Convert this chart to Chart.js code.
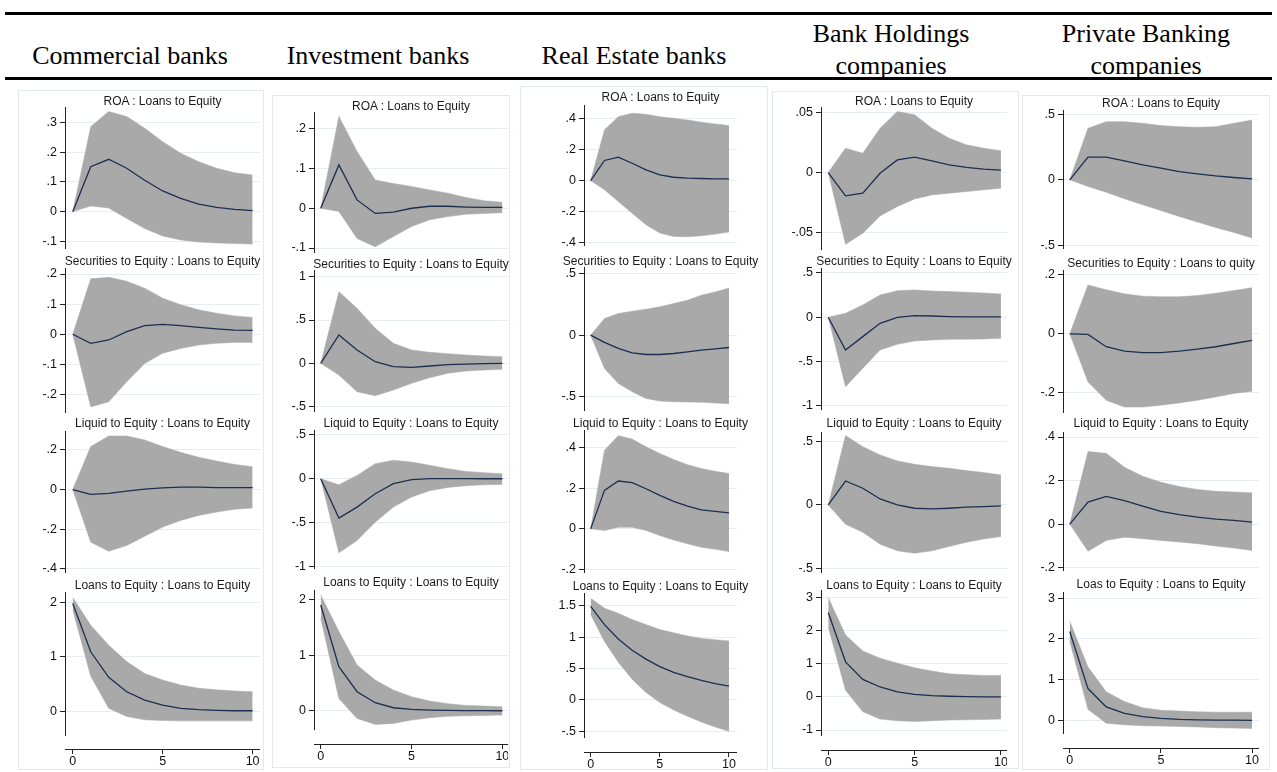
<!DOCTYPE html>
<html>
<head>
<meta charset="utf-8">
<title>Impulse responses to Loans to Equity by bank type</title>
<script src="https://cdn.jsdelivr.net/npm/chart.js@4.4.1/dist/chart.umd.min.js"></script>
<style>
  html, body { margin: 0; padding: 0; background: #fff; }
  #page { position: relative; width: 1277px; height: 772px; overflow: hidden; background: #fff; }
  .rule { position: absolute; left: 5px; width: 1267px; height: 3px; background: #000; }
  .head { position: absolute; font-family: 'Liberation Serif', 'Times New Roman', serif; font-size: 26px;
          color: #000; text-align: center; line-height: 32px; white-space: nowrap; transform: translate(-50%, -50%); }
  .frame { position: absolute; border: 1px solid #e3e8ec; box-sizing: border-box; background: #fff; }
  .ptitle { position: absolute; font-family: 'Liberation Sans', Arial, sans-serif; font-size: 12px; color: #1a1a1a;
            white-space: nowrap; line-height: 14px; transform: translate(-50%, -50%); }
  canvas { position: absolute; }
</style>
</head>
<body>
<div id="page"></div>
<script>
// ---------- data ----------
const steps = [0, 1, 2, 3, 4, 5, 6, 7, 8, 9, 10];
const xTickLabels = ['0', '5', '10'];
const groupNames = ['Commercial banks', 'Investment banks', 'Real Estate banks', 'Bank Holdings\ncompanies', 'Private Banking\ncompanies'];

// Commercial banks
const cbTitles = ['ROA : Loans to Equity', 'Securities to Equity : Loans to Equity', 'Liquid to Equity : Loans to Equity', 'Loans to Equity : Loans to Equity'];
const cbRoaTicks = ['-.1', '0', '.1', '.2', '.3'];
const cbSecTicks = ['-.2', '-.1', '0', '.1', '.2'];
const cbLiqTicks = ['-.4', '-.2', '0', '.2'];
const cbLoanTicks = ['0', '1', '2'];
const cbRoaIrf = [0, 0.151, 0.176, 0.146, 0.106, 0.070, 0.045, 0.026, 0.015, 0.008, 0.004];
const cbRoaLo  = [0, 0.020, 0.013, -0.022, -0.056, -0.081, -0.094, -0.101, -0.104, -0.106, -0.108];
const cbRoaHi  = [0, 0.285, 0.336, 0.319, 0.280, 0.235, 0.196, 0.168, 0.146, 0.131, 0.123];
const cbSecIrf = [0, -0.030, -0.019, 0.009, 0.029, 0.033, 0.029, 0.023, 0.018, 0.014, 0.013];
const cbSecLo  = [0, -0.241, -0.224, -0.158, -0.097, -0.063, -0.047, -0.036, -0.030, -0.027, -0.027];
const cbSecHi  = [0, 0.184, 0.189, 0.176, 0.153, 0.120, 0.098, 0.081, 0.070, 0.061, 0.056];
const cbLiqIrf = [0, -0.024, -0.019, -0.008, 0.002, 0.008, 0.012, 0.012, 0.010, 0.010, 0.010];
const cbLiqLo  = [0, -0.266, -0.312, -0.283, -0.236, -0.190, -0.156, -0.131, -0.114, -0.100, -0.093];
const cbLiqHi  = [0, 0.217, 0.271, 0.271, 0.251, 0.217, 0.188, 0.163, 0.144, 0.127, 0.115];
const cbLoanIrf = [1.98, 1.09, 0.62, 0.356, 0.20, 0.11, 0.05, 0.025, 0.012, 0.006, 0.006];
const cbLoanLo  = [1.86, 0.64, 0.05, -0.10, -0.16, -0.175, -0.18, -0.18, -0.18, -0.18, -0.18];
const cbLoanHi  = [2.09, 1.58, 1.21, 0.91, 0.69, 0.57, 0.48, 0.42, 0.39, 0.37, 0.356];

// Investment banks
const ibTitles = ['ROA : Loans to Equity', 'Securities to Equity : Loans to Equity', 'Liquid to Equity : Loans to Equity', 'Loans to Equity : Loans to Equity'];
const ibRoaTicks = ['-.1', '0', '.1', '.2'];
const ibSecTicks = ['-.5', '0', '.5', '1'];
const ibLiqTicks = ['-1', '-.5', '0', '.5'];
const ibLoanTicks = ['0', '1', '2'];
const ibRoaIrf = [0, 0.109, 0.021, -0.013, -0.010, 0.000, 0.005, 0.005, 0.003, 0.002, 0.002];
const ibRoaLo  = [0, -0.008, -0.076, -0.097, -0.071, -0.046, -0.029, -0.021, -0.015, -0.013, -0.011];
const ibRoaHi  = [0, 0.231, 0.143, 0.071, 0.062, 0.055, 0.046, 0.038, 0.027, 0.019, 0.015];
const ibSecIrf = [0, 0.327, 0.154, 0.019, -0.038, -0.046, -0.031, -0.015, -0.008, -0.004, 0.000];
const ibSecLo  = [0, -0.135, -0.327, -0.373, -0.308, -0.231, -0.165, -0.115, -0.088, -0.077, -0.069];
const ibSecHi  = [0, 0.827, 0.635, 0.404, 0.231, 0.154, 0.127, 0.112, 0.096, 0.085, 0.077];
const ibLiqIrf = [0, -0.450, -0.324, -0.172, -0.057, -0.011, 0.002, 0.002, 0.001, 0.000, 0.000];
const ibLiqLo  = [0, -0.847, -0.706, -0.496, -0.324, -0.210, -0.137, -0.099, -0.080, -0.069, -0.065];
const ibLiqHi  = [0, -0.069, 0.038, 0.172, 0.210, 0.191, 0.153, 0.115, 0.084, 0.069, 0.057];
const ibLoanIrf = [1.91, 0.795, 0.343, 0.145, 0.054, 0.024, 0.012, 0.006, 0.003, 0.001, 0.000];
const ibLoanLo  = [1.67, 0.22, -0.139, -0.247, -0.229, -0.169, -0.127, -0.102, -0.090, -0.084, -0.078];
const ibLoanHi  = [2.09, 1.43, 0.825, 0.554, 0.373, 0.253, 0.175, 0.127, 0.096, 0.084, 0.072];

// Real Estate banks
const reTitles = ['ROA : Loans to Equity', 'Securities to Equity : Loans to Equity', 'Liquid to Equity : Loans to Equity', 'Loans to Equity : Loans to Equity'];
const reRoaTicks = ['-.4', '-.2', '0', '.2', '.4'];
const reSecTicks = ['-.5', '0', '.5'];
const reLiqTicks = ['-.2', '0', '.2', '.4'];
const reLoanTicks = ['-.5', '0', '.5', '1', '1.5'];
const reRoaIrf = [0, 0.129, 0.150, 0.111, 0.069, 0.036, 0.021, 0.015, 0.013, 0.011, 0.011];
const reRoaLo  = [0, -0.060, -0.135, -0.210, -0.285, -0.338, -0.360, -0.362, -0.356, -0.345, -0.332];
const reRoaHi  = [0, 0.326, 0.411, 0.433, 0.426, 0.411, 0.400, 0.390, 0.375, 0.364, 0.354];
const reSecIrf = [0, -0.059, -0.108, -0.143, -0.157, -0.157, -0.149, -0.135, -0.122, -0.111, -0.100];
const reSecLo  = [0, -0.270, -0.392, -0.459, -0.514, -0.535, -0.541, -0.543, -0.546, -0.551, -0.557];
const reSecHi  = [0, 0.135, 0.176, 0.195, 0.211, 0.230, 0.257, 0.284, 0.324, 0.351, 0.384];
const reLiqIrf = [0, 0.190, 0.236, 0.228, 0.198, 0.165, 0.136, 0.112, 0.094, 0.086, 0.079];
const reLiqLo  = [0, -0.008, 0.008, 0.008, -0.008, -0.033, -0.055, -0.074, -0.091, -0.101, -0.112];
const reLiqHi  = [0, 0.388, 0.460, 0.443, 0.405, 0.372, 0.342, 0.317, 0.298, 0.284, 0.273];
const reLoanIrf = [1.49, 1.20, 0.97, 0.79, 0.65, 0.53, 0.44, 0.37, 0.31, 0.26, 0.22];
const reLoanLo  = [1.36, 0.93, 0.60, 0.33, 0.12, -0.04, -0.16, -0.26, -0.35, -0.43, -0.50];
const reLoanHi  = [1.62, 1.46, 1.38, 1.28, 1.20, 1.12, 1.07, 1.02, 0.98, 0.96, 0.94];

// Bank Holdings companies
const bhTitles = ['ROA : Loans to Equity', 'Securities to Equity : Loans to Equity', 'Liquid to Equity : Loans to Equity', 'Loans to Equity : Loans to Equity'];
const bhRoaTicks = ['-.05', '0', '.05'];
const bhSecTicks = ['-1', '-.5', '0', '.5'];
const bhLiqTicks = ['-.5', '0', '.5'];
const bhLoanTicks = ['-1', '0', '1', '2', '3'];
const bhRoaIrf = [0, -0.0194, -0.0172, -0.0006, 0.0105, 0.0127, 0.0097, 0.0064, 0.0042, 0.0028, 0.0020];
const bhRoaLo  = [0, -0.0596, -0.0504, -0.0360, -0.0283, -0.0219, -0.0186, -0.0172, -0.0158, -0.0144, -0.0130];
const bhRoaHi  = [0, 0.0202, 0.0160, 0.0368, 0.0507, 0.0480, 0.0368, 0.0285, 0.0230, 0.0202, 0.0180];
const bhSecIrf = [0, -0.368, -0.218, -0.068, 0.000, 0.019, 0.015, 0.008, 0.004, 0.004, 0.004];
const bhSecLo  = [0, -0.782, -0.575, -0.368, -0.305, -0.267, -0.256, -0.248, -0.248, -0.244, -0.237];
const bhSecHi  = [0, 0.045, 0.139, 0.252, 0.300, 0.308, 0.297, 0.290, 0.282, 0.274, 0.263];
const bhLiqIrf = [0, 0.188, 0.131, 0.047, 0.000, -0.026, -0.031, -0.026, -0.018, -0.013, -0.008];
const bhLiqLo  = [0, -0.152, -0.215, -0.309, -0.361, -0.379, -0.361, -0.327, -0.293, -0.267, -0.249];
const bhLiqHi  = [0, 0.545, 0.458, 0.393, 0.346, 0.319, 0.301, 0.288, 0.270, 0.254, 0.236];
const bhLoanIrf = [2.55, 1.06, 0.53, 0.30, 0.15, 0.08, 0.04, 0.02, 0.01, 0.00, 0.00];
const bhLoanLo  = [2.11, 0.20, -0.45, -0.67, -0.72, -0.74, -0.72, -0.70, -0.69, -0.68, -0.67];
const bhLoanHi  = [3.00, 1.87, 1.39, 1.17, 1.02, 0.88, 0.78, 0.70, 0.67, 0.65, 0.65];

// Private Banking companies
const pbTitles = ['ROA : Loans to Equity', 'Securities to Equity : Loans to quity', 'Liquid to Equity : Loans to Equity', 'Loas to Equity : Loans to Equity'];
const pbRoaTicks = ['-.5', '0', '.5'];
const pbSecTicks = ['-.2', '0', '.2'];
const pbLiqTicks = ['-.2', '0', '.2', '.4'];
const pbLoanTicks = ['0', '1', '2', '3'];
const pbRoaIrf = [0, 0.173, 0.173, 0.145, 0.114, 0.089, 0.063, 0.046, 0.030, 0.018, 0.008];
const pbRoaLo  = [0, -0.051, -0.094, -0.145, -0.190, -0.234, -0.279, -0.322, -0.363, -0.401, -0.444];
const pbRoaHi  = [0, 0.393, 0.444, 0.444, 0.431, 0.414, 0.406, 0.401, 0.406, 0.431, 0.457];
const pbSecIrf = [0, -0.002, -0.044, -0.059, -0.064, -0.064, -0.059, -0.052, -0.044, -0.033, -0.022];
const pbSecLo  = [0, -0.164, -0.226, -0.249, -0.249, -0.243, -0.235, -0.226, -0.215, -0.203, -0.195];
const pbSecHi  = [0, 0.166, 0.150, 0.136, 0.128, 0.126, 0.126, 0.130, 0.138, 0.147, 0.157];
const pbLiqIrf = [0, 0.101, 0.127, 0.108, 0.082, 0.058, 0.043, 0.032, 0.023, 0.017, 0.009];
const pbLiqLo  = [0, -0.125, -0.075, -0.060, -0.067, -0.075, -0.082, -0.090, -0.101, -0.110, -0.121];
const pbLiqHi  = [0, 0.333, 0.325, 0.261, 0.220, 0.192, 0.173, 0.159, 0.151, 0.147, 0.144];
const pbLoanIrf = [2.18, 0.78, 0.33, 0.17, 0.09, 0.05, 0.025, 0.012, 0.008, 0.004, 0.002];
const pbLoanLo  = [1.94, 0.27, -0.07, -0.11, -0.13, -0.14, -0.15, -0.16, -0.18, -0.19, -0.20];
const pbLoanHi  = [2.43, 1.31, 0.70, 0.46, 0.31, 0.25, 0.23, 0.21, 0.20, 0.20, 0.20];

// ---------- layout (pixels) ----------
const headerCenters = [130, 378, 634, 891, 1146];
const frames = [[18, 90, 264, 770], [272, 95, 510, 768], [520, 86, 768, 770], [772, 91, 1019, 769], [1022, 95, 1270, 770]];
// per column: y-axis x position, right edge of plot, x range, bottom axis position
const colGeo = [
  { axisX: 65,   right: 260,  xMin: -0.43, xMax: 10.41, xAxisY: 749 },
  { axisX: 314,  right: 508,  xMin: -0.37, xMax: 10.31, xAxisY: 744 },
  { axisX: 584,  right: 737,  xMin: -0.48, xMax: 10.58, xAxisY: 752 },
  { axisX: 821,  right: 1007, xMin: -0.42, xMax: 10.35, xAxisY: 750 },
  { axisX: 1063, right: 1259, xMin: -0.37, xMax: 10.38, xAxisY: 748 }
];
// per panel: [top, bottom, yMin, yMax, titleY]
const rowGeo = [
  [[107, 248, -0.121, 0.351, 101], [268, 412, -0.258, 0.22, 261], [431, 572, -0.417, 0.296, 423], [592, 735, -0.44, 2.19, 585]],
  [[112, 252, -0.11, 0.242, 106], [270, 411, -0.55, 1.077, 264], [430, 568, -1.02, 0.557, 423], [590, 729, -0.33, 2.18, 582]],
  [[105, 245, -0.415, 0.486, 97], [267, 410, -0.608, 0.554, 261], [430, 572, -0.213, 0.488, 423], [593, 737, -0.59, 1.703, 586]],
  [[107, 249, -0.0635, 0.0544, 101], [268, 409, -1.034, 0.556, 261], [432, 572, -0.527, 0.573, 423], [590, 735, -1.15, 3.23, 585]],
  [[110, 248, -0.52, 0.533, 103], [270, 412, -0.266, 0.217, 263], [432, 570, -0.211, 0.423, 423], [592, 733, -0.31, 3.15, 584]]
];

// ---------- styles ----------
const LINE = '#1c2f50';
const BAND = '#a9a9a9';
const GRID = '#e6ecef';
const AXIS = '#222';
const FONT = "'Liberation Sans', Arial, sans-serif";
const TICK_SIZE = 12.5;
const YW = 44;   // width reserved for y tick labels
const PAD = 9;   // room above/below the plot for edge labels

// table of panels built from the named arrays
const columns = [
  { titles: cbTitles, ticks: [cbRoaTicks, cbSecTicks, cbLiqTicks, cbLoanTicks],
    series: [[cbRoaIrf, cbRoaLo, cbRoaHi], [cbSecIrf, cbSecLo, cbSecHi], [cbLiqIrf, cbLiqLo, cbLiqHi], [cbLoanIrf, cbLoanLo, cbLoanHi]] },
  { titles: ibTitles, ticks: [ibRoaTicks, ibSecTicks, ibLiqTicks, ibLoanTicks],
    series: [[ibRoaIrf, ibRoaLo, ibRoaHi], [ibSecIrf, ibSecLo, ibSecHi], [ibLiqIrf, ibLiqLo, ibLiqHi], [ibLoanIrf, ibLoanLo, ibLoanHi]] },
  { titles: reTitles, ticks: [reRoaTicks, reSecTicks, reLiqTicks, reLoanTicks],
    series: [[reRoaIrf, reRoaLo, reRoaHi], [reSecIrf, reSecLo, reSecHi], [reLiqIrf, reLiqLo, reLiqHi], [reLoanIrf, reLoanLo, reLoanHi]] },
  { titles: bhTitles, ticks: [bhRoaTicks, bhSecTicks, bhLiqTicks, bhLoanTicks],
    series: [[bhRoaIrf, bhRoaLo, bhRoaHi], [bhSecIrf, bhSecLo, bhSecHi], [bhLiqIrf, bhLiqLo, bhLiqHi], [bhLoanIrf, bhLoanLo, bhLoanHi]] },
  { titles: pbTitles, ticks: [pbRoaTicks, pbSecTicks, pbLiqTicks, pbLoanTicks],
    series: [[pbRoaIrf, pbRoaLo, pbRoaHi], [pbSecIrf, pbSecLo, pbSecHi], [pbLiqIrf, pbLiqLo, pbLiqHi], [pbLoanIrf, pbLoanLo, pbLoanHi]] }
];

const page = document.getElementById('page');

function el(cls, css, html) {
  const d = document.createElement('div');
  d.className = cls;
  Object.assign(d.style, css);
  if (html !== undefined) d.innerHTML = html;
  page.appendChild(d);
  return d;
}

function pts(vals) {
  return steps.map((s, i) => ({ x: s, y: vals[i] }));
}

function makeCanvas(left, top, w, h) {
  const cv = document.createElement('canvas');
  cv.width = w; cv.height = h;
  cv.style.left = left + 'px'; cv.style.top = top + 'px';
  cv.style.width = w + 'px'; cv.style.height = h + 'px';
  page.appendChild(cv);
  return cv;
}

// header with rules
el('rule', { top: '12px' });
el('rule', { top: '77px' });
groupNames.forEach((name, c) => {
  const twoLines = name.includes('\n');
  el('head', { left: headerCenters[c] + 'px', top: (twoLines ? 50 : 56) + 'px' }, name.replace('\n', '<br>'));
});

// light panel frames
frames.forEach(([l, t, r, b]) => el('frame', { left: l + 'px', top: t + 'px', width: (r - l) + 'px', height: (b - t) + 'px' }));

function makePanel(col, geo, set, tickLabels, title) {
  const [top, bottom, yMin, yMax, titleY] = geo;
  const [irf, lo, hi] = set;
  const w = YW + (col.right - col.axisX);
  const h = bottom - top + 2 * PAD;
  const cv = makeCanvas(col.axisX - YW, top - PAD, w, h);
  const tickVals = tickLabels.map(parseFloat);

  el('ptitle', { left: ((col.axisX + col.right) / 2) + 'px', top: titleY + 'px' }, title);

  new Chart(cv, {
    type: 'line',
    data: {
      datasets: [
        { data: pts(irf), borderColor: LINE, borderWidth: 1.3, pointRadius: 0, fill: false, order: 0 },
        { data: pts(hi), borderColor: BAND, backgroundColor: BAND, borderWidth: 0.5, pointRadius: 0, fill: '+1', order: 1 },
        { data: pts(lo), borderColor: BAND, borderWidth: 0.5, pointRadius: 0, fill: false, order: 2 }
      ]
    },
    options: {
      responsive: false,
      animation: false,
      devicePixelRatio: 1,
      layout: { padding: { top: PAD, bottom: PAD, left: 0, right: 0 } },
      plugins: { legend: { display: false }, tooltip: { enabled: false } },
      elements: { line: { tension: 0 } },
      scales: {
        x: { type: 'linear', min: col.xMin, max: col.xMax, display: false },
        y: {
          type: 'linear', min: yMin, max: yMax,
          afterBuildTicks: s => { s.ticks = tickVals.map(v => ({ value: v })); },
          afterFit: s => { s.width = YW; s.paddingTop = 0; s.paddingBottom = 0; },
          ticks: { callback: (v, i) => tickLabels[i], font: { family: FONT, size: TICK_SIZE }, color: '#111', padding: 3, autoSkip: false },
          grid: { color: GRID, lineWidth: 1, tickColor: AXIS, tickLength: 5, drawTicks: true },
          border: { display: true, color: AXIS, width: 1 }
        }
      }
    }
  });
}

function makeXAxis(col) {
  const w = YW + (col.right - col.axisX);
  const cv = makeCanvas(col.axisX - YW, col.xAxisY - 4, w, 28);
  const tickVals = xTickLabels.map(parseFloat);
  new Chart(cv, {
    type: 'line',
    data: { datasets: [] },
    options: {
      responsive: false,
      animation: false,
      devicePixelRatio: 1,
      layout: { padding: { top: 3, left: YW, right: 0, bottom: 0 } },
      plugins: { legend: { display: false }, tooltip: { enabled: false } },
      scales: {
        x: {
          type: 'linear', min: col.xMin, max: col.xMax, position: 'bottom',
          afterBuildTicks: s => { s.ticks = tickVals.map(v => ({ value: v })); },
          afterFit: s => { s.height = 24; s.paddingLeft = 0; s.paddingRight = 0; },
          ticks: { callback: (v, i) => xTickLabels[i], font: { family: FONT, size: TICK_SIZE }, color: '#111', padding: 0, maxRotation: 0, autoSkip: false },
          grid: { drawOnChartArea: false, drawTicks: true, tickLength: 5, tickColor: AXIS },
          border: { display: true, color: AXIS, width: 1 }
        },
        y: { display: false, min: 0, max: 1 }
      }
    }
  });
}

columns.forEach((c, ci) => {
  const col = colGeo[ci];
  for (let r = 0; r < 4; r++) {
    makePanel(col, rowGeo[ci][r], c.series[r], c.ticks[r], c.titles[r]);
  }
  makeXAxis(col);
});
</script>
</body>
</html>
